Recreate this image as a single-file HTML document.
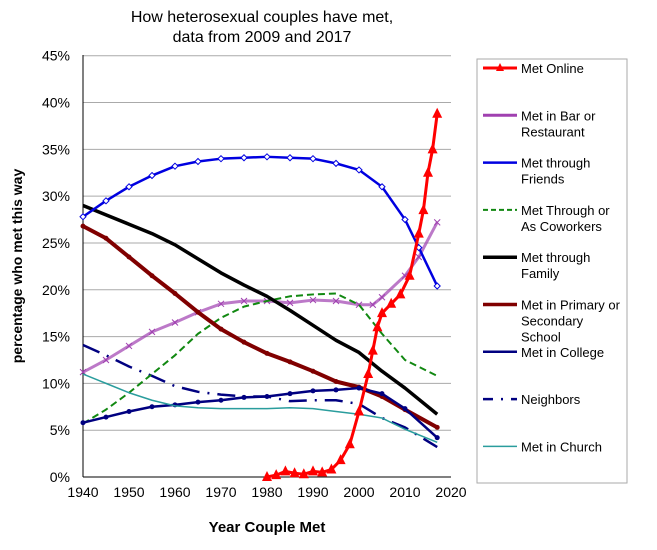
<!DOCTYPE html>
<html><head><meta charset="utf-8"><style>
body{margin:0;background:#fff;font-family:"Liberation Sans",sans-serif}
svg text{font-family:"Liberation Sans",sans-serif}
</style></head><body>
<svg id="c" width="657" height="545">
<text x="262" y="22" text-anchor="middle" font-size="16">How heterosexual couples have met,</text>
<text x="262" y="42" text-anchor="middle" font-size="16">data from 2009 and 2017</text>
<text transform="translate(22,266) rotate(-90)" text-anchor="middle" font-size="14" font-weight="bold">percentage who met this way</text>
<text x="267" y="532" text-anchor="middle" font-size="15" font-weight="bold">Year Couple Met</text>
<g id="grid"></g><g id="series"></g>
<rect x="477" y="59" width="150" height="424" fill="none" stroke="#aaa"/>
<g id="legend"></g>
</svg>
<script>
const yTicks=[0,5,10,15,20,25,30,35,40,45];
const xTicks=[1940,1950,1960,1970,1980,1990,2000,2010,2020];
const yrs=[1940,1945,1950,1955,1960,1965,1970,1975,1980,1985,1990,1995,2000,2005,2010,2017];
const friendsYrs=[1940,1945,1950,1955,1960,1965,1970,1975,1980,1985,1990,1995,2000,2005,2010,2013,2017];
const friends=[27.8,29.5,31,32.2,33.2,33.7,34,34.1,34.2,34.1,34,33.5,32.8,31,27.5,24.5,20.4];
const family=[29,28,27,26,24.8,23.3,21.8,20.5,19.3,17.8,16.2,14.6,13.3,11.3,9.5,6.7];
const school=[26.8,25.5,23.5,21.5,19.6,17.6,15.8,14.4,13.2,12.3,11.3,10.2,9.6,8.6,7.2,5.3];
const barYrs=[1940,1945,1950,1955,1960,1965,1970,1975,1980,1985,1990,1995,2000,2003,2005,2010,2013,2017];
const bar=[11.2,12.5,14,15.5,16.5,17.6,18.5,18.8,18.8,18.6,18.9,18.8,18.4,18.4,19.2,21.5,23.5,27.2];
const coworkers=[5.7,7.2,9,11,13,15.3,17,18.2,18.8,19.3,19.5,19.6,18.4,15.3,12.5,10.8];
const college=[5.8,6.4,7,7.5,7.7,8,8.2,8.5,8.6,8.9,9.2,9.3,9.5,8.9,7.3,4.2];
const neighbors=[14.1,13,11.8,10.8,9.7,9.1,8.8,8.6,8.6,8.1,8.2,8.2,7.8,6.3,5.3,3.2];
const church=[11,10,9,8.2,7.6,7.4,7.3,7.3,7.3,7.4,7.3,7,6.7,6.3,5.1,3.7];
const onlineYrs=[1980,1982,1984,1986,1988,1990,1992,1994,1996,1998,2000,2002,2003,2004,2005,2007,2009,2011,2013,2014,2015,2016,2017];
const online=[0,0.2,0.6,0.4,0.3,0.6,0.5,0.8,1.8,3.5,7,11,13.5,16,17.5,18.5,19.5,21.5,26,28.5,32.5,35,38.8];
const labels=[["Met Online"],["Met in Bar or","Restaurant"],["Met through","Friends"],["Met Through or","As Coworkers"],["Met through","Family"],["Met in Primary or","Secondary","School"],["Met in College"],["Neighbors"],["Met in Church"]];
const X=v=>83+(v-1940)*(451-83)/80, Y=v=>477-v*(477-55.7)/45;
const NS="http://www.w3.org/2000/svg";
function mk(t,a,p){const e=document.createElementNS(NS,t);for(const k in a)e.setAttribute(k,a[k]);p.appendChild(e);return e;}
const g=document.getElementById('grid');
yTicks.forEach(t=>{const l=mk('line',{x1:83,x2:451,y1:Y(t),y2:Y(t),stroke:t?'#aaa':'#000'},g);


const tx=mk('text',{x:70,y:Y(t)+5,'text-anchor':'end','font-size':14},g);tx.textContent=t+'%';

});
mk('line',{x1:83,x2:83,y1:55,y2:477,stroke:'#000'},g);
xTicks.forEach(t=>{const tx=mk('text',{x:X(t),y:497,'text-anchor':'middle','font-size':14},g);tx.textContent=t;

});
const S=document.getElementById('series');
const defs=[
 {n:'online',xs:onlineYrs,v:online,c:'#f00',w:3,m:'tri'},
 {n:'bar',xs:barYrs,v:bar,c:'#a040b0',w:3,m:'x'},
 {n:'friends',xs:friendsYrs,v:friends,c:'#0000e0',w:2.5,m:'dia'},
 {n:'coworkers',xs:yrs,v:coworkers,c:'#118811',w:2,d:'7,4'},
 {n:'family',xs:yrs,v:family,c:'#000',w:3.5},
 {n:'school',xs:yrs,v:school,c:'#800000',w:4,m:'dot'},
 {n:'college',xs:yrs,v:college,c:'#000080',w:2.5,m:'dot'},
 {n:'neighbors',xs:yrs,v:neighbors,c:'#000080',w:2.5,d:'18,8,2,8'},
 {n:'church',xs:yrs,v:church,c:'#2a9d9d',w:1.5}];
[7,1,3,4,5,6,8,2,0].forEach(i=>{const s=defs[i];
 const pts=s.xs.map((x,j)=>X(x)+','+Y(s.v[j])).join(' ');
 const p=mk('polyline',{points:pts,fill:'none',stroke:s.c,'stroke-width':s.w,'stroke-dasharray':s.d||'','stroke-linejoin':'round','stroke-opacity':s.n==='bar'?0.7:1},S);
 
 
 s.xs.forEach((x,j)=>{const cx=X(x),cy=Y(s.v[j]);let t=null;
  if(s.m==='tri')t=mk('polygon',{points:`${cx},${cy-6} ${cx-5},${cy+4} ${cx+5},${cy+4}`,fill:s.c},S);
  else if(s.m==='dia')t=mk('polygon',{points:`${cx},${cy-3} ${cx+3},${cy} ${cx},${cy+3} ${cx-3},${cy}`,fill:'#fff',stroke:s.c},S);
  else if(s.m==='dot')t=mk('circle',{cx:cx,cy:cy,r:2.5,fill:s.c},S);
  else if(s.m==='x')t=mk('path',{d:`M${cx-3},${cy-3}L${cx+3},${cy+3}M${cx-3},${cy+3}L${cx+3},${cy-3}`,stroke:s.c,'stroke-width':1},S);
  if(t){
  }
 });
});
const L=document.getElementById('legend');
labels.forEach((lab,i)=>{const s=defs[i];const y=68+i*47.3;
 const l=mk('line',{x1:483,x2:517,y1:y,y2:y,stroke:s.c,'stroke-width':Math.min(s.w,3.5),'stroke-dasharray':s.d?(i===7?'10,8,2,8':'5,3'):''},L);
 
 
 if(s.m==='tri'){mk('polygon',{points:`500,${y-5} 496,${y+3} 504,${y+3}`,fill:s.c},L);}
 lab.forEach((tt,k)=>{const tx=mk('text',{x:521,y:y+5+k*16,'font-size':13},L);tx.textContent=tt;
  
  });
});
</script>
</body></html>
